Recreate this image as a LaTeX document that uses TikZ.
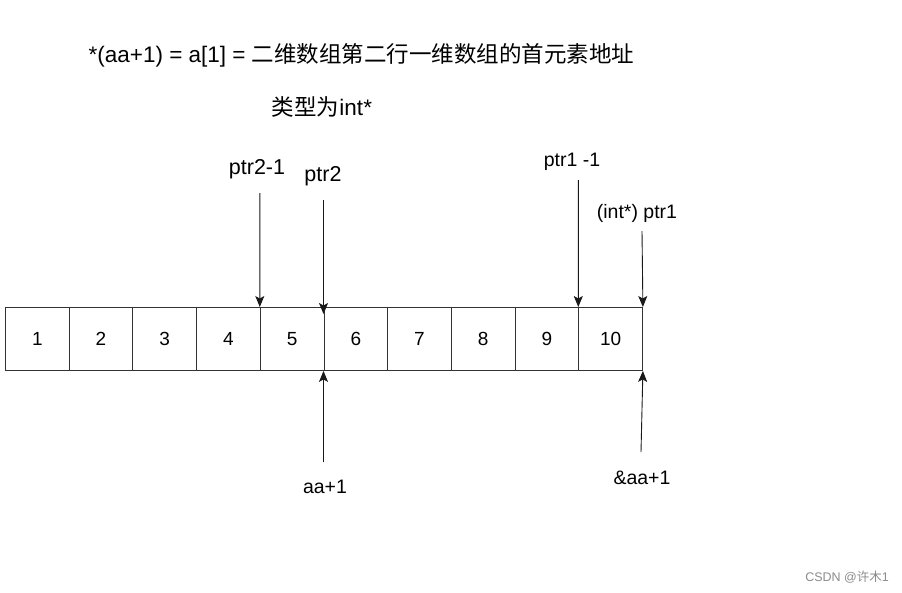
\documentclass[tikz,border=0pt]{standalone}
\usepackage{fontspec}
\setmainfont{Liberation Sans}
\newfontfamily\cjk{Noto Sans CJK SC}
\usetikzlibrary{arrows.meta}
\begin{document}
\begin{tikzpicture}[x=1pt,y=-1pt,
  cell/.style={draw=black!80, line width=0.9pt, minimum width=63.7pt, minimum height=63pt,
    inner sep=0pt, anchor=north west, font=\fontsize{19}{22}\selectfont},
  lbl/.style={inner sep=0pt, font=\fontsize{19.5}{22}\selectfont},
  biglbl/.style={inner sep=0pt, font=\fontsize{21.5}{24}\selectfont},
  ttl/.style={inner sep=0pt, font=\fontsize{22.5}{25}\selectfont},
  ptr/.style={draw=black!90, line width=0.9pt, -{Stealth[length=11pt,width=9pt,inset=2.5pt]}}]
\fill[white] (0,0) rectangle (902,592);
\useasboundingbox (0,0) rectangle (902,592);
% title texts
\node[ttl] (title) at (361.5,55) {*(aa+1) = a[1] = {\cjk 二维数组第二行一维数组的首元素地址}};
\node[ttl] (type) at (322,107) {{\cjk 类型为}int*};
% cells
\foreach \i in {1,...,10}
  \node[cell] (c\i) at ({5+(\i-1)*63.7},307) {\i};
% labels
\node[biglbl] (lp2m) at (257,169) {ptr2-1};
\node[biglbl] (lp2) at (323,176) {ptr2};
\node[lbl] (lp1m) at (572,162) {ptr1 -1};
\node[lbl] (lp1) at (637,213) {(int*) ptr1};
\node[lbl] (laa) at (325,487) {aa+1};
\node[lbl] (lraa) at (642,478) {\&aa+1};
% arrows
\coordinate (s1) at (259.8,193);
\coordinate (s2) at (323.5,200);
\coordinate (s3) at (578.3,180);
\coordinate (s4) at (642,231);
\coordinate (s5) at (323.5,462);
\coordinate (s6) at (641,452);
\draw[ptr] (s1) -- (c5.north west);
\draw[ptr] (s2) -- ([yshift=-7pt]c6.north west);
\draw[ptr] (s3) -- (c10.north west);
\draw[ptr] (s4) -- (c10.north east);
\draw[ptr] (s5) -- (c6.south west);
\draw[ptr] (s6) -- (c10.south east);
% watermark
\node[anchor=east, inner sep=0pt, text=black!45, font=\fontsize{12.5}{14}\selectfont] (wm) at (889,577) {CSDN @{\cjk 许木}1};
\end{tikzpicture}
\end{document}
